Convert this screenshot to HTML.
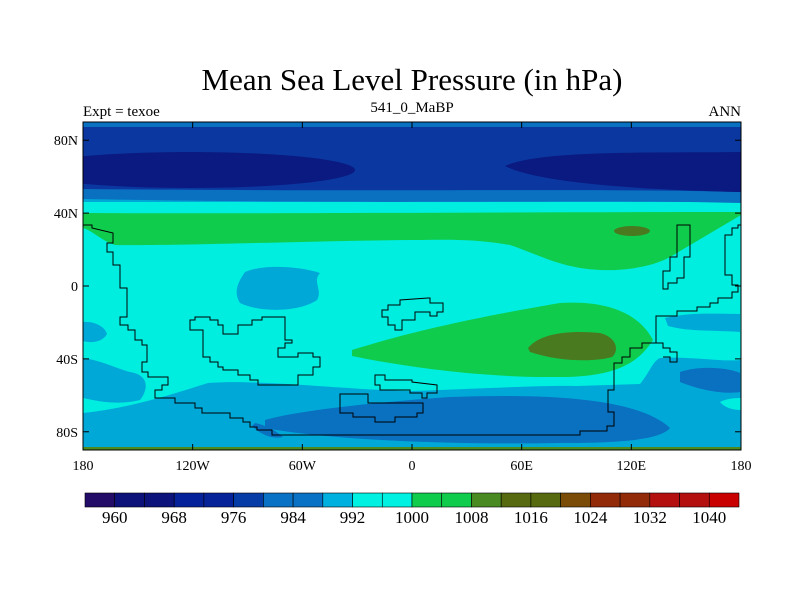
<!DOCTYPE html>
<html><head><meta charset="utf-8"><style>
body{margin:0;background:#fff;}
svg{display:block;font-family:"Liberation Serif",serif;}
</style></head><body>
<svg width="800" height="600" viewBox="0 0 800 600">
<text x="412" y="90" text-anchor="middle" font-size="31">Mean Sea Level Pressure (in hPa)</text>
<text x="83" y="116" font-size="15">Expt = texoe</text>
<text x="412" y="112" text-anchor="middle" font-size="15">541_0_MaBP</text>
<text x="741" y="116" text-anchor="end" font-size="15">ANN</text>
<defs><clipPath id="pc"><rect x="83" y="122" width="658" height="328"/></clipPath></defs>
<g clip-path="url(#pc)">
<rect x="83" y="122" width="658" height="328" fill="#00eee0"/>
<rect x="83" y="122" width="658" height="80" fill="#00a8d8"/>
<path d="M83 122H741V203C600 199 400 205 83 199Z" fill="#0a70c0"/>
<path d="M83 127H741V192C600 188 400 192 83 189Z" fill="#0a38a0"/>
<ellipse cx="190" cy="170" rx="165" ry="18" fill="#0a1a80"/>
<path d="M505 166C540 150 650 153 741 152V192C650 190 540 184 505 166Z" fill="#0a1a80"/>
<path d="M83 213C250 214 500 212 741 212V215L670 257C650 268 620 271 600 270C560 268 540 255 510 245C470 238 440 240 412 240C300 241 180 246 115 245C100 240 95 232 83 228Z" fill="#10cc4c"/>
<ellipse cx="632" cy="231" rx="18" ry="5" fill="#4a7a20"/>
<path d="M352 350C400 335 460 320 560 303C610 300 640 315 653 340C640 360 620 377 560 377C480 378 400 366 352 356Z" fill="#10cc4c"/>
<path d="M528 348C540 333 570 330 600 333C616 337 620 350 612 357C595 362 560 362 530 352Z" fill="#4a7a20"/>
<path d="M245 272C262 264 300 266 320 273C312 282 323 290 317 300C300 312 260 313 240 303C233 292 238 282 245 272Z" fill="#00a8d8"/>
<path d="M83 322C95 321 105 327 107 334C102 343 90 343 83 341Z" fill="#00a8d8"/>
<path d="M83 358C100 360 115 368 130 372C150 375 148 390 140 400C120 405 100 402 83 398Z" fill="#00a8d8"/>
<path d="M83 413C130 408 170 395 208 383C260 379 350 390 410 391C480 389 540 385 577 386L640 384C650 372 652 362 660 358C690 356 720 362 741 360V450H83Z" fill="#00a8d8"/>
<path d="M665 318C690 312 720 314 740 314V332C715 330 690 332 668 326Z" fill="#00a8d8"/>
<path d="M720 402C728 398 736 398 741 398V410C733 410 725 408 720 402Z" fill="#00eee0"/>
<path d="M265 420C300 410 380 402 450 397C560 393 640 400 670 428C660 440 620 443 560 443C450 445 330 440 265 428Z" fill="#0a70c0"/>
<path d="M680 372C700 365 730 368 740 373V392C720 395 695 388 680 382Z" fill="#0a70c0"/>
<path d="M255 423C265 425 275 430 283 437C270 440 258 432 252 426Z" fill="#0a70c0"/>
<rect x="83" y="447" width="658" height="3" fill="#4a8a20"/>
<g fill="none" stroke="#000" stroke-width="1">
<polyline points="83,225 92,225 92,228 113,233 113,243 107,243 107,252 113,252 113,265 120,265 120,288 127,288 127,317 120,317 120,325 128,325 128,330 135,330 135,340 142,340 142,345 147,345 147,362 142,362 142,372 148,372 148,377 168,377 168,385 162,385 162,390 155,390 155,398 175,398 175,403 195,403 195,408 202,408 202,413 230,413 230,418 243,418 243,422 250,422 250,427 257,427 257,430 272,430 272,435 278,435 580,435 580,431 607,431 607,426 614,426 614,412 608,412 608,390 614,390 614,363 622,363 622,357 630,357 630,348 642,348 642,343 656,343 656,316 677,316 677,311 697,311 697,307 710,307 710,303 718,303 718,298 732,298 732,292 738,292 738,285 732,285 732,275 725,275 725,235 732,235 732,228 738,228 738,225 741,225"/>
<polyline points="656,343 663,343 663,348 670,348 670,352 677,352 677,362 670,362 670,357 663,357"/>
<polygon points="190,320 195,320 195,317 210,317 210,320 218,320 218,325 223,325 223,334 238,334 238,325 252,325 252,320 262,320 262,317 285,317 285,340 292,340 292,343 285,343 285,348 278,348 278,357 298,357 298,353 313,353 313,357 320,357 320,367 313,367 313,375 298,375 298,385 258,385 258,380 250,380 250,375 238,375 238,370 223,370 223,367 218,367 218,362 210,362 210,357 203,357 203,330 190,330"/>
<polygon points="677,225 690,225 690,257 684,257 684,278 677,278 677,283 668,283 668,289 663,289 663,271 670,271 670,257 677,257"/>
<polygon points="340,394 368,394 368,403 423,403 423,413 417,413 417,417 395,417 395,422 375,422 375,417 353,417 353,413 340,413"/>
<polygon points="375,375 385,375 385,380 412,380 412,382 437,385 437,393 427,393 427,398 422,398 422,393 410,393 410,390 380,390 380,385 375,385"/>
<polygon points="382,310 388,310 388,305 400,305 400,300 428,298 430,298 430,303 443,303 443,312 437,312 437,316 430,316 430,312 415,312 415,320 402,320 402,330 395,330 395,325 388,325 388,317 382,317"/>
</g>
</g>
<rect x="83" y="122" width="658" height="328" fill="none" stroke="#000" stroke-width="1"/>
<g id="axes" font-size="14"></g>
<g id="cbar"></g>
<script>
const latTicks=[80,40,0,-40,-80];
const latLabels=["80N","40N","0","40S","80S"];
const lonTicks=[-180,-120,-60,0,60,120,180];
const lonLabels=["180","120W","60W","0","60E","120E","180"];
const levels=[960,964,968,972,976,980,984,988,992,996,1000,1004,1008,1012,1016,1020,1024,1028,1032,1036,1040];
const colors=["#220c68","#0c127a","#0c147c","#06229a","#06239a","#063ca6","#0a72c4","#0a72c4","#00b0de","#00f0e2","#00f0e2","#10cc4c","#10cc4c","#4a8a22","#586a10","#586a10","#7a4c08","#922c08","#922c08","#b41010","#b41010","#c80000"];
const NS="http://www.w3.org/2000/svg";
const X=lon=>83+(lon+180)*658/360, Y=lat=>286-lat*328/180;
const ax=document.getElementById('axes');
function mk(tag,attrs,parent){const e=document.createElementNS(NS,tag);for(const k in attrs)e.setAttribute(k,attrs[k]);parent.appendChild(e);return e;}
latTicks.forEach((v,i)=>{
 const t=mk('text',{x:78,y:Y(v)+5,'text-anchor':'end'},ax);t.textContent=latLabels[i];
 
 
 mk('line',{x1:83,x2:89,y1:Y(v),y2:Y(v),stroke:'#000'},ax);
 mk('line',{x1:735,x2:741,y1:Y(v),y2:Y(v),stroke:'#000'},ax);
});
lonTicks.forEach((v,i)=>{
 const t=mk('text',{x:X(v),y:470,'text-anchor':'middle'},ax);t.textContent=lonLabels[i];
 
 
 mk('line',{x1:X(v),x2:X(v),y1:122,y2:128,stroke:'#000'},ax);
 mk('line',{x1:X(v),x2:X(v),y1:444,y2:450,stroke:'#000'},ax);
});
const cb=document.getElementById('cbar');
const bx0=85,bx1=739,bw=(bx1-bx0)/colors.length;
colors.forEach((c,i)=>{
 const r=mk('rect',{x:bx0+i*bw,y:493,width:bw,height:14,fill:c,stroke:'#000','stroke-width':0.6},cb);
 
 
});
levels.forEach((v,i)=>{
 if(i%2)return;
 const t=mk('text',{x:bx0+(i+1)*bw,y:523,'text-anchor':'middle','font-size':17},cb);t.textContent=v;
 
 
});
</script>
</svg>
</body></html>
